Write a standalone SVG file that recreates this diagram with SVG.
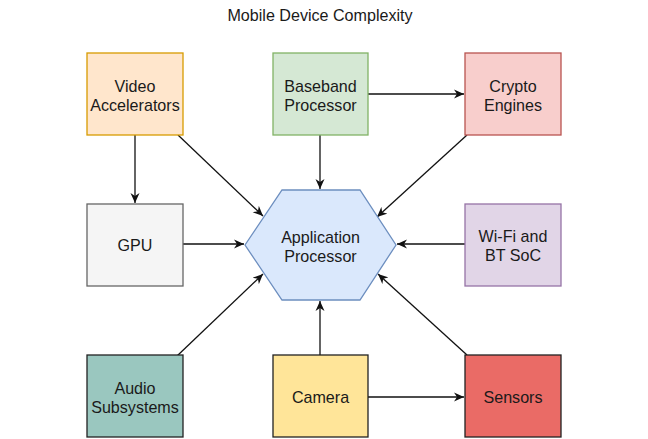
<svg xmlns="http://www.w3.org/2000/svg" width="648" height="439" viewBox="0 0 648 439">
<style>
text{font-family:"Liberation Sans",Arial,sans-serif;font-size:16.1px;fill:#1a1a1a;text-anchor:middle}
.box{stroke-width:1.3}
.c{fill:none;stroke:#111;stroke-width:1.3;marker-end:url(#arr)}
</style>
<defs>
<marker id="arr" markerUnits="userSpaceOnUse" markerWidth="12" markerHeight="10" refX="10" refY="5" orient="auto">
<path d="M0,0.5 L10,5 L0,9.5 L3,5 Z" fill="#111"/>
</marker>
</defs>
<rect width="648" height="439" fill="#fff"/>
<text id="title" x="320" y="20.5">Mobile Device Complexity</text>
<g id="connectors">
<line class="c" x1="135" y1="135" x2="135" y2="203"/>
<line class="c" x1="178" y1="135" x2="263" y2="216"/>
<line class="c" x1="320" y1="135" x2="320" y2="189"/>
<line class="c" x1="368" y1="94" x2="464" y2="94"/>
<line class="c" x1="467" y1="135" x2="377" y2="217"/>
<line class="c" x1="183" y1="244" x2="244" y2="244"/>
<line class="c" x1="465" y1="244" x2="397" y2="244"/>
<line class="c" x1="177" y1="356" x2="263" y2="274"/>
<line class="c" x1="320" y1="355" x2="320" y2="301"/>
<line class="c" x1="368" y1="397" x2="464" y2="397"/>
<line class="c" x1="467" y1="355" x2="378" y2="274"/>
</g>
<g id="video">
<rect class="box" x="87" y="53" width="96" height="82" fill="#ffe6cc" stroke="#d79b00"/>
<text x="135" y="92">Video</text><text x="135" y="110.5">Accelerators</text>
</g>
<g id="baseband">
<rect class="box" x="273" y="53" width="95" height="82" fill="#d5e8d4" stroke="#82b366"/>
<text x="320.5" y="92">Baseband</text><text x="320.5" y="110.5">Processor</text>
</g>
<g id="crypto">
<rect class="box" x="465" y="53" width="96" height="82" fill="#f8cecc" stroke="#b85450"/>
<text x="513" y="92">Crypto</text><text x="513" y="110.5">Engines</text>
</g>
<g id="gpu">
<rect class="box" x="87" y="204" width="96" height="82" fill="#f5f5f5" stroke="#666666"/>
<text x="135" y="250.5">GPU</text>
</g>
<g id="ap">
<polygon class="box" points="245,245 282,190 360,190 396,245 360,300 282,300" fill="#dae8fc" stroke="#6c8ebf"/>
<text x="320.5" y="242.5">Application</text><text x="320.5" y="261.5">Processor</text>
</g>
<g id="wifi">
<rect class="box" x="465" y="204" width="96" height="82" fill="#e1d5e7" stroke="#9673a6"/>
<text x="513" y="242">Wi-Fi and</text><text x="513" y="260.5">BT SoC</text>
</g>
<g id="audio">
<rect class="box" x="87" y="355" width="96" height="82" fill="#9ac7bf" stroke="#222"/>
<text x="135" y="394">Audio</text><text x="135" y="412.5">Subsystems</text>
</g>
<g id="camera">
<rect class="box" x="273" y="355" width="95" height="82" fill="#ffe599" stroke="#222"/>
<text x="320.5" y="403">Camera</text>
</g>
<g id="sensors">
<rect class="box" x="465" y="355" width="96" height="82" fill="#ea6b66" stroke="#222"/>
<text x="513" y="403">Sensors</text>
</g>
</svg>
